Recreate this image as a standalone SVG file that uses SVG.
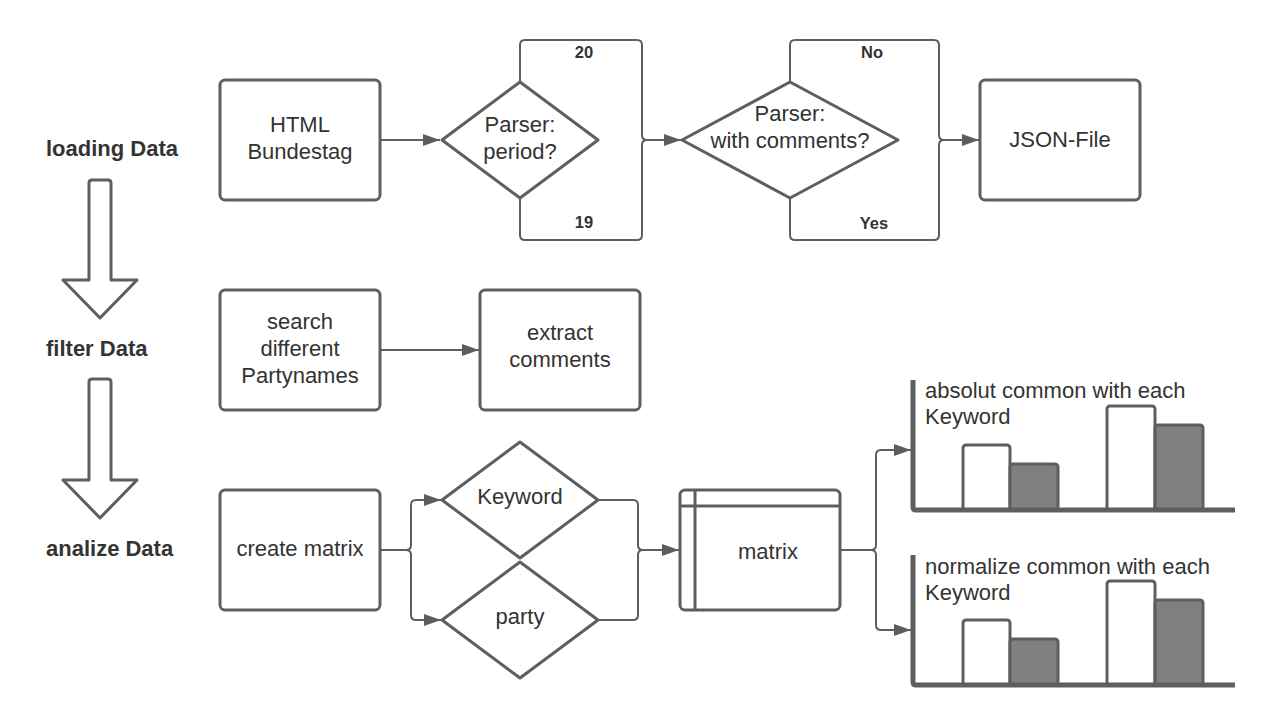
<svg xmlns="http://www.w3.org/2000/svg" width="1275" height="725" viewBox="0 0 1275 725">
<defs>
<marker id="ah" markerUnits="userSpaceOnUse" markerWidth="18" markerHeight="14" refX="17" refY="7" orient="auto">
<path d="M0,1 L17,7 L0,13 Z" fill="#5e5e5e"/>
</marker>
<style>
.s{fill:#fff;stroke:#5e5e5e;stroke-width:3;stroke-linejoin:round}
.c{fill:none;stroke:#5e5e5e;stroke-width:2;stroke-linejoin:round}
.t{font-family:"Liberation Sans",Arial,sans-serif;font-size:22px;fill:#333;text-anchor:middle}
.tl{font-family:"Liberation Sans",Arial,sans-serif;font-size:22px;fill:#333}
.b{font-family:"Liberation Sans",Arial,sans-serif;font-size:22px;font-weight:bold;fill:#333}
.lb{font-family:"Liberation Sans",Arial,sans-serif;font-size:16.5px;font-weight:bold;fill:#333;text-anchor:middle}
.g{fill:#808080;stroke:#5e5e5e;stroke-width:3}
.ax{fill:none;stroke:#5e5e5e;stroke-width:5;stroke-linejoin:round}
</style>
</defs>
<rect width="1275" height="725" fill="#fff"/>

<g id="phases">
<text class="b" x="46" y="156">loading Data</text>
<text class="b" x="46" y="356">filter Data</text>
<text class="b" x="46" y="556">analize Data</text>
<path class="s" d="M92,180 H108 Q111,180 111,183 V280 H137 L100,318 L63,280 H89 V183 Q89,180 92,180 Z"/>
<path class="s" d="M92,379 H108 Q111,379 111,382 V480 H137 L100,518 L63,480 H89 V382 Q89,379 92,379 Z"/>
</g>

<g id="connectors">
<path class="c" d="M380,140 H440" marker-end="url(#ah)"/>
<path class="c" d="M520,82 V45 Q520,40 525,40 H637 Q642,40 642,45 V135 Q642,140 647,140"/>
<path class="c" d="M520,198 V235 Q520,240 525,240 H637 Q642,240 642,235 V145 Q642,140 647,140"/>
<path class="c" d="M647,140 H681" marker-end="url(#ah)"/>
<path class="c" d="M790,82 V45 Q790,40 795,40 H934 Q939,40 939,45 V135 Q939,140 944,140"/>
<path class="c" d="M790,198 V235 Q790,240 795,240 H934 Q939,240 939,235 V145 Q939,140 944,140"/>
<path class="c" d="M944,140 H979" marker-end="url(#ah)"/>
<path class="c" d="M380,350 H479" marker-end="url(#ah)"/>
<path class="c" d="M380,550 H406 Q411,550 411,545 V505 Q411,500 416,500 H441" marker-end="url(#ah)"/>
<path class="c" d="M380,550 H406 Q411,550 411,555 V615 Q411,620 416,620 H441" marker-end="url(#ah)"/>
<path class="c" d="M598,500 H633 Q638,500 638,505 V545 Q638,550 643,550"/>
<path class="c" d="M598,620 H633 Q638,620 638,615 V555 Q638,550 643,550"/>
<path class="c" d="M643,550 H679" marker-end="url(#ah)"/>
<path class="c" d="M840,550 H871 Q876,550 876,545 V455 Q876,450 881,450 H911" marker-end="url(#ah)"/>
<path class="c" d="M840,550 H871 Q876,550 876,555 V625 Q876,630 881,630 H911" marker-end="url(#ah)"/>
<text class="lb" x="584" y="58">20</text>
<text class="lb" x="584" y="228">19</text>
<text class="lb" x="872" y="58">No</text>
<text class="lb" x="874" y="229">Yes</text>
</g>

<g id="html">
<rect class="s" x="220" y="80" width="160" height="120" rx="5"/>
<text class="t" x="300" y="132">HTML</text>
<text class="t" x="300" y="159">Bundestag</text>
</g>

<g id="period">
<path class="s" d="M520,82 L598,140 L520,198 L442,140 Z"/>
<text class="t" x="520" y="132">Parser:</text>
<text class="t" x="520" y="159">period?</text>
</g>

<g id="comments-q">
<path class="s" d="M790,82 L898,140 L790,198 L682,140 Z"/>
<text class="t" x="790" y="121">Parser:</text>
<text class="t" x="790" y="148">with comments?</text>
</g>

<g id="json">
<rect class="s" x="980" y="80" width="160" height="120" rx="5"/>
<text class="t" x="1060" y="147">JSON-File</text>
</g>

<g id="search">
<rect class="s" x="220" y="290" width="160" height="120" rx="5"/>
<text class="t" x="300" y="329">search</text>
<text class="t" x="300" y="356">different</text>
<text class="t" x="300" y="383">Partynames</text>
</g>

<g id="extract">
<rect class="s" x="480" y="290" width="160" height="120" rx="5"/>
<text class="t" x="560" y="340">extract</text>
<text class="t" x="560" y="367">comments</text>
</g>

<g id="create">
<rect class="s" x="220" y="490" width="160" height="120" rx="5"/>
<text class="t" x="300" y="556">create matrix</text>
</g>

<g id="keyword">
<path class="s" d="M520,442 L598,500 L520,558 L442,500 Z"/>
<text class="t" x="520" y="504">Keyword</text>
</g>

<g id="party">
<path class="s" d="M520,562 L598,620 L520,678 L442,620 Z"/>
<text class="t" x="520" y="624">party</text>
</g>

<g id="matrix">
<rect class="s" x="680" y="490" width="160" height="120" rx="5"/>
<path class="c" d="M680,506 H840 M695,490 V610" style="stroke-width:3"/>
<text class="t" x="768" y="559">matrix</text>
</g>

<g id="chart-absolut">
<rect class="s" x="963" y="445" width="47" height="65" rx="3"/>
<rect class="g" x="1010" y="464" width="48" height="46" rx="3"/>
<rect class="s" x="1107" y="406" width="48" height="104" rx="3"/>
<rect class="g" x="1155" y="425" width="48" height="85" rx="3"/>
<path class="ax" d="M913,380 V507 Q913,510 916,510 H1235"/>
<text class="tl" x="925" y="398">absolut common with each</text>
<text class="tl" x="925" y="424">Keyword</text>
</g>

<g id="chart-normalize">
<rect class="s" x="963" y="620" width="47" height="65" rx="3"/>
<rect class="g" x="1010" y="639" width="48" height="46" rx="3"/>
<rect class="s" x="1107" y="581" width="48" height="104" rx="3"/>
<rect class="g" x="1155" y="600" width="48" height="85" rx="3"/>
<path class="ax" d="M913,555 V682 Q913,685 916,685 H1235"/>
<text class="tl" x="925" y="574">normalize common with each</text>
<text class="tl" x="925" y="600">Keyword</text>
</g>
</svg>
